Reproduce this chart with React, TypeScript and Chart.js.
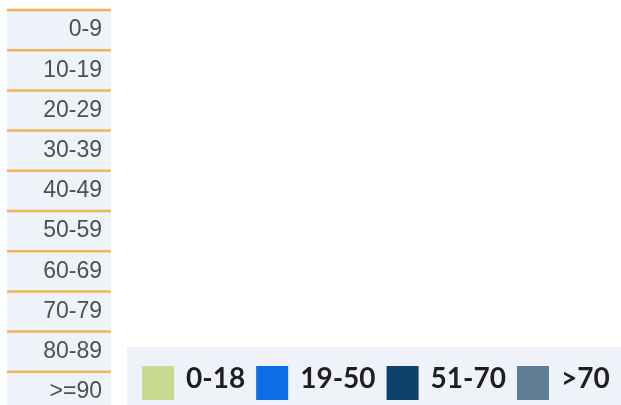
import React, { useEffect, useRef } from 'react';
import { Chart, registerables } from 'chart.js';

Chart.register(...registerables);

// Age-group categories (y axis)
const ageGroups = ['0-9', '10-19', '20-29', '30-39', '40-49', '50-59', '60-69', '70-79', '80-89', '>=90'];

// Series (legend) names and colours
const seriesLabels = ['0-18', '19-50', '51-70', '>70'];
const seriesColors = ['#c9db90', '#0b6ee6', '#0c416b', '#5f7e95'];

// Series values per age group (nothing is visible in the reference: all zero)
const values0to18 = [0, 0, 0, 0, 0, 0, 0, 0, 0, 0];
const values19to50 = [0, 0, 0, 0, 0, 0, 0, 0, 0, 0];
const values51to70 = [0, 0, 0, 0, 0, 0, 0, 0, 0, 0];
const valuesOver70 = [0, 0, 0, 0, 0, 0, 0, 0, 0, 0];

const seriesValues = [values0to18, values19to50, values51to70, valuesOver70];

const panelPlugin = {
  id: 'panelPlugin',
  beforeDraw(chart: any) {
    const ctx = chart.ctx;
    const y = chart.scales.y;
    ctx.save();
    ctx.fillStyle = '#eef2f9';
    ctx.fillRect(y.left, y.top, y.right - y.left, y.bottom - y.top);
    const n = chart.data.labels.length;
    const half = (y.getPixelForValue(1) - y.getPixelForValue(0)) / 2;
    ctx.strokeStyle = '#f0b556';
    ctx.lineWidth = 2.5;
    for (let i = 0; i < n; i++) {
      const py = y.getPixelForValue(i) - half;
      ctx.beginPath();
      ctx.moveTo(y.left, py);
      ctx.lineTo(y.right, py);
      ctx.stroke();
    }
    ctx.restore();
  },
  afterDraw(chart: any) {
    const ctx = chart.ctx;
    const area = chart.chartArea;
    const panelLeft = area.left + 16;
    const panelTop = area.bottom - 65;
    ctx.save();
    ctx.fillStyle = '#eff3f9';
    ctx.fillRect(panelLeft, panelTop, chart.width - panelLeft, chart.height - panelTop);
    ctx.font = 'bold 28px Lato, "Open Sans", sans-serif';
    ctx.textBaseline = 'alphabetic';
    ctx.textAlign = 'left';
    const boxW = 32;
    const boxH = 34;
    const textGap = 12;
    const itemGap = 11;
    let x = panelLeft + 15;
    const boxTop = panelTop + 19;
    chart.data.datasets.forEach((ds: any) => {
      ctx.fillStyle = ds.backgroundColor;
      ctx.fillRect(x, boxTop, boxW, boxH);
      x += boxW + textGap;
      ctx.fillStyle = '#1f1f1f';
      ctx.fillText(ds.label, x, boxTop + 22);
      x += ctx.measureText(ds.label).width + itemGap;
    });
    ctx.restore();
  },
};

export default function App() {
  const ref = useRef<HTMLCanvasElement | null>(null);

  useEffect(() => {
    if (!ref.current) return;
    const chart = new Chart(ref.current, {
      type: 'bar',
      data: {
        labels: ageGroups,
        datasets: seriesLabels.map((label, i) => ({
          label,
          data: seriesValues[i],
          backgroundColor: seriesColors[i],
          borderWidth: 0,
        })),
      },
      options: {
        indexAxis: 'y',
        responsive: false,
        animation: false,
        devicePixelRatio: 1,
        layout: { padding: { left: 7, top: 10, right: 0, bottom: 0 } },
        plugins: {
          legend: { display: false },
          tooltip: { enabled: false },
        },
        scales: {
          x: { display: false, stacked: true, min: 0, max: 100 },
          y: {
            stacked: true,
            afterFit: (scale: any) => {
              scale.width = 104;
              scale.paddingTop = 0;
              scale.paddingBottom = 0;
            },
            grid: { display: false, drawTicks: false },
            border: { display: false },
            ticks: {
              color: '#505050',
              padding: 9,
              font: { family: '"Liberation Sans", Arial, sans-serif', size: 23 },
            },
          },
        },
      },
      plugins: [panelPlugin],
    });
    return () => chart.destroy();
  }, []);

  return (
    <div style={{ position: 'fixed', left: 0, top: 0, width: 621, height: 405, overflow: 'hidden', background: '#fff' }}>
      <canvas ref={ref} width={621} height={412} style={{ display: 'block' }} />
    </div>
  );
}
